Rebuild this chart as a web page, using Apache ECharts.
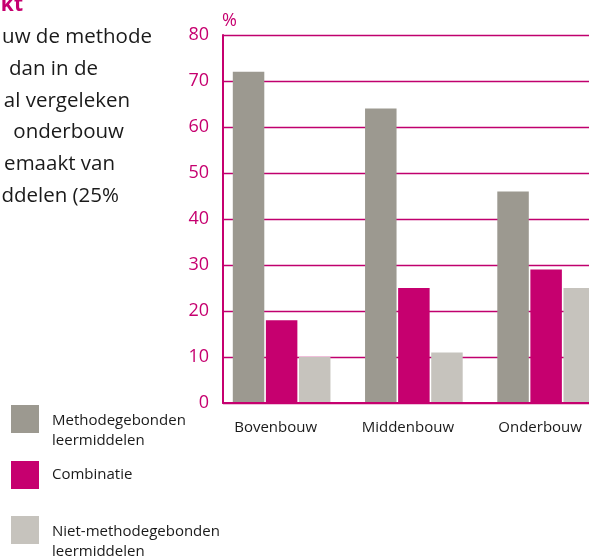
<!DOCTYPE html>
<html>
<head>
<meta charset="utf-8">
<script src="https://cdn.jsdelivr.net/npm/echarts@6/dist/echarts.min.js"></script>
<style>
  html, body { margin: 0; padding: 0; background: #fff; }
  #chart { width: 589px; height: 559px; }
</style>
</head>
<body>
<div id="chart"></div>
<script>
  // data
  const categories = ['Bovenbouw', 'Middenbouw', 'Onderbouw'];
  const methodegebonden = [72, 64, 46];
  const combinatie = [18, 25, 29];
  const nietMethodegebonden = [10, 11, 25];
  const seriesNames = ['Methodegebonden\nleermiddelen', 'Combinatie', 'Niet-methodegebonden\nleermiddelen'];
  const yMin = 0, yMax = 80, yStep = 10;

  // cut-off paragraph to the left of the chart
  const introHeading = 'kt';
  const introLines = ['uw de methode', 'dan in de', 'al vergeleken', 'onderbouw', 'emaakt van', 'ddelen (25%'];

  const magenta = '#c6006f';
  const colors = ['#9c9990', magenta, '#c6c3bd'];
  const font = '"Open Sans", "Noto Sans", sans-serif';

  const chart = echarts.init(document.getElementById('chart'));

  // text block + legend are plain graphics
  const lineRight = [152, 98, 130, 124, 115, 119];
  const graphics = [{
    type: 'text', x: 23, y: 5,
    style: { text: introHeading, font: 'bold 21px ' + font, fill: magenta, align: 'right', verticalAlign: 'middle' }
  }];
  introLines.forEach(function (t, i) {
    graphics.push({
      type: 'text', x: lineRight[i], y: 37.5 + i * 31.7,
      style: { text: t, font: '20.5px ' + font, fill: '#1a1a1a', align: 'right', verticalAlign: 'middle' }
    });
  });
  const legendTop = [405, 461, 516];
  const legendTextTop = [411, 464.5, 522];
  seriesNames.forEach(function (n, i) {
    graphics.push({
      type: 'rect', shape: { x: 11, y: legendTop[i], width: 28, height: 28 },
      style: { fill: colors[i] }
    });
    graphics.push({
      type: 'text', x: 52, y: legendTextTop[i],
      style: { text: n, font: '15px ' + font, lineHeight: 19.5, fill: '#1a1a1a', verticalAlign: 'top' }
    });
  });

  chart.setOption({
    animation: false,
    textStyle: { fontFamily: font },
    color: colors,
    graphic: graphics,
    grid: [
      // bars (runs past the right edge of the picture)
      { left: 215.5, width: 396.75, top: 35, height: 368, outerBoundsMode: 'none' },
      // axis frame + gridlines
      { left: 223, right: 0, top: 35, height: 368, outerBoundsMode: 'none' }
    ],
    xAxis: [
      {
        gridIndex: 0, type: 'category', data: categories,
        axisLine: { show: false }, axisTick: { show: false },
        axisLabel: { color: '#1a1a1a', fontSize: 15, margin: 17, padding: [0, 12, 0, 0] }
      },
      {
        gridIndex: 1, type: 'category', data: categories, z: 3,
        axisLine: { lineStyle: { color: magenta, width: 2 } },
        axisTick: { show: false }, axisLabel: { show: false }
      }
    ],
    yAxis: [
      { gridIndex: 0, type: 'value', min: yMin, max: yMax, interval: yStep, show: false },
      {
        gridIndex: 1, type: 'value', min: yMin, max: yMax, interval: yStep,
        name: '%', nameLocation: 'end', nameGap: 5,
        nameTextStyle: { color: magenta, fontSize: 18, align: 'left', verticalAlign: 'bottom', padding: [0, 0, 0, -1] },
        axisLine: { show: true, lineStyle: { color: magenta, width: 2 } },
        axisTick: { show: false },
        axisLabel: { color: magenta, fontSize: 18, margin: 14 },
        splitLine: { show: true, lineStyle: { color: '#c0006e', width: 1.4 } }
      }
    ],
    series: [
      { name: 'Methodegebonden leermiddelen', type: 'bar', data: methodegebonden, barWidth: 31.5, barGap: '5%' },
      { name: 'Combinatie', type: 'bar', data: combinatie, barWidth: 31.5, barGap: '5%' },
      { name: 'Niet-methodegebonden leermiddelen', type: 'bar', data: nietMethodegebonden, barWidth: 31.5, barGap: '5%' }
    ]
  });
</script>
</body>
</html>
